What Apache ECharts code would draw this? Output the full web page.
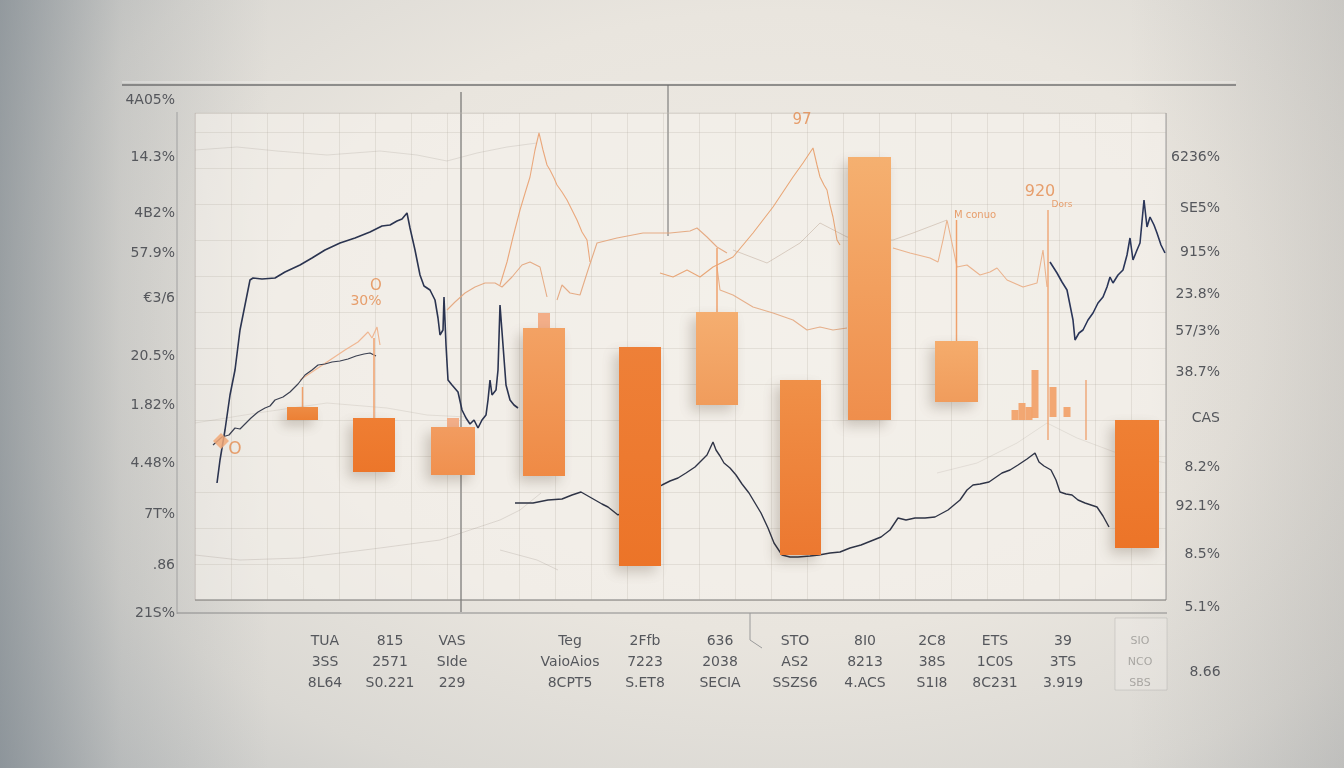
<!DOCTYPE html>
<html>
<head>
<meta charset="utf-8">
<script src="https://cdn.jsdelivr.net/npm/echarts@6/dist/echarts.min.js"></script>
<style>
  html, body { margin: 0; padding: 0; }
  body {
    width: 1344px; height: 768px; overflow: hidden;
    background:
      linear-gradient(90deg, rgba(100,112,122,0.55) 0%, rgba(110,120,128,0.18) 9%, rgba(0,0,0,0) 20%, rgba(0,0,0,0) 84%, rgba(120,120,120,0.18) 100%),
      radial-gradient(ellipse 80% 90% at 58% 42%, #efebe5 0%, #e9e5de 45%, #dad8d3 72%, #bcbfc0 100%);
  }
  #chart { width: 1344px; height: 768px; }
</style>
</head>
<body>
<div id="chart"></div>
<script>
// ---------- data (axis units: x = offset along plot, y = height above baseline) ----------
const leftTickVals   = [0, 48, 99, 150, 208, 257, 315, 360, 400, 456, 513];
const leftTickLabels = ['21S%', '.86', '7T%', '4.48%', '1.82%', '20.5%', '€3/6', '57.9%', '4B2%', '14.3%', '4A05%'];
const rightTickVals   = [6, 59, 107, 146, 195, 241, 282, 319, 361, 405, 456];
const rightTickLabels = ['5.1%', '8.5%', '92.1%', '8.2%', 'CAS', '38.7%', '57/3%', '23.8%', '915%', 'SE5%', '6236%'];
const xTickVals   = [148, 213, 275, 393, 468, 543, 618, 688, 755, 818, 886, 963];
const xTickLabels = ['TUA\n3SS\n8L64', '815\n2571\nS0.221', 'VAS\nSIde\n229', 'Teg\nVaioAios\n8CPT5',
  '2Ffb\n7223\nS.ET8', '636\n2038\nSECIA', 'STO\nAS2\nSSZS6', '8I0\n8213\n4.ACS',
  '2C8\n38S\nS1I8', 'ETS\n1C0S\n8C231', '39\n3TS\n3.919', 'SIO\nNCO\nSBS'];

const barX    = [125.5, 197, 276, 367, 463, 540, 623.5, 692.5, 779.5, 960];
const barLow  = [193, 141, 138, 137, 47, 208, 58, 193, 211, 65];
const barHigh = [206, 195, 186, 285, 266, 301, 233, 456, 272, 193];
const barWick = [226, 275, null, null, null, 365, null, null, 393, null];
const barCap  = [null, null, 195, 300, null, null, null, null, null, null];

const minorX    = [838, 845, 852, 858, 876, 890];
const minorLow  = [193, 193, 193, 195, 196, 196];
const minorHigh = [203, 210, 206, 243, 226, 206];

const spikeX    = [871, 909];
const spikeLow  = [173, 173];
const spikeHigh = [403, 233];

const navyA = [[40,130],[43,153],[48,183],[53,218],[58,243],[63,283],[68,308],[73,333],[76,335],[85,334],[98,335],[108,341],[123,348],[135,355],[148,363],[163,370],[178,375],[193,381],[205,387],[213,388],[220,392],[225,394],[230,400],[233,385],[238,363],[243,338],[247,327],[253,323],[258,313],[261,295],[263,278],[266,283],[267,316],[269,268],[271,233],[275,228],[281,221],[285,203],[289,195],[293,189],[297,193],[301,185],[305,193],[309,198],[311,213],[313,233],[315,218],[319,223],[321,243],[323,308],[326,268],[329,228],[333,213],[337,208],[341,205]];
const navyA2 = [[36,168],[45,176],[52,178],[58,185],[63,184],[68,189],[74,195],[81,201],[88,205],[93,207],[98,213],[106,216],[113,221],[121,229],[128,238],[135,243],[141,248],[148,249],[155,251],[163,252],[171,254],[179,257],[187,259],[193,260],[199,257]];
const navyB = [[338,110],[356,110],[371,113],[385,114],[395,118],[404,121],[411,117],[418,113],[425,109],[431,106],[441,98],[485,128],[493,132],[501,135],[509,140],[518,146],[525,153],[530,158],[536,171],[539,163],[543,157],[547,150],[553,145],[559,138],[565,129],[572,120],[578,110],[584,100],[591,85],[597,70],[605,58],[613,56],[621,56],[633,57],[642,58],[653,60],[663,61],[673,65],[684,68],[694,72],[704,76],[713,83],[721,95],[729,93],[738,95],[748,95],[758,96],[771,103],[783,113],[790,123],[796,128],[803,129],[812,131],[825,140],[833,143],[841,148],[850,154],[858,160],[862,151],[867,147],[874,143],[879,133],[883,121],[889,119],[895,118],[901,113],[908,110],[914,108],[920,106],[926,97],[932,86]];
const navyC = [[873,351],[880,340],[885,331],[890,323],[893,308],[896,293],[898,273],[902,280],[906,283],[911,293],[916,300],[921,310],[926,316],[930,326],[933,336],[936,330],[941,338],[946,343],[950,358],[953,375],[956,353],[960,363],[963,370],[967,413],[970,386],[973,396],[977,388],[980,380],[984,368],[988,360]];

const orangeO1 = [[123,233],[138,243],[153,253],[168,263],[181,271],[191,281],[195,275],[200,286],[203,268]];
const orangeP = [[323,328],[330,351],[336,376],[343,403],[349,423],[353,436],[358,463],[362,480],[366,463],[370,448],[373,443],[377,435],[380,428],[385,421],[390,413],[395,403],[400,393],[405,381],[410,373],[413,351]];
const orangeQ = [[270,303],[278,311],[288,320],[298,326],[308,330],[318,330],[325,326],[335,336],[345,348],[353,351],[363,346],[370,316]];
const orangeQ2 = [[380,313],[385,328],[393,320],[403,318],[411,343],[420,370],[440,375],[466,380],[493,380],[513,382],[520,385],[530,376],[540,366],[550,360]];
const orangeQ3 = [[540,346],[543,323],[556,318],[576,306],[596,300],[616,293],[630,283],[643,286],[656,283],[670,285]];
const orangeR = [[483,340],[496,336],[510,343],[523,336],[536,346],[556,356],[566,368],[576,380],[586,393],[596,406],[606,421],[616,436],[626,450],[636,465],[640,448],[643,436],[647,428],[650,423],[653,408],[656,396],[660,373],[663,368]];
const orangeS = [[716,365],[733,360],[753,355],[761,351],[766,373],[770,393],[775,370],[780,346],[790,348],[803,338],[813,341],[820,345],[830,333],[846,326],[853,328],[860,330],[866,363],[870,326]];

const grayG1 = [[18,463],[60,466],[100,462],[150,458],[203,462],[240,458],[270,452],[300,460],[330,466],[360,470]];
const grayG2 = [[556,363],[590,350],[623,370],[643,390],[670,376],[703,373],[716,373],[736,380],[770,393]];
const grayG3 = [[18,58],[63,53],[123,55],[203,65],[263,73],[323,93],[343,103],[364,120]];
const grayG4 = [[323,63],[360,53],[381,43]];
const grayG5 = [[18,190],[80,200],[150,210],[210,205],[250,198],[290,196]];
const grayG6 = [[760,140],[800,150],[840,170],[870,190],[900,175],[940,160],[989,150]];

const annX    = [58, 199, 189, 625, 863, 798, 885];
const annY    = [163, 327, 312, 493, 421, 398, 408];
const annText = ['O', 'O', '30%', '97', '920', 'M conuo', 'Dors'];

// ---------- styles ----------
const annSize = [17, 15, 14, 15, 16, 10, 9];
const barColors = [['#EE8C44','#EC8035'], ['#EF7E33','#EC762A'], ['#F29C60','#F0904E'], ['#F3A264','#EF8A45'],
  ['#EE8038','#EC7428'], ['#F5AE70','#F09C5C'], ['#F09048','#EC7830'], ['#F5B070','#EF8E4C'],
  ['#F5AC6C','#F09C5C'], ['#EF8034','#EC7428']];
const barWidths = [31, 42, 44, 42, 42, 42, 41, 43, 43, 44];

function renderBars(params, api) {
  const i = params.dataIndex;
  const x = api.value(0), lo = api.value(1), hi = api.value(2);
  const top = api.coord([x, hi]);
  const bot = api.coord([x, lo]);
  const w = barWidths[i];
  const children = [];
  if (barWick[i] != null) {
    const pw = api.coord([x, barWick[i]]);
    children.push({ type: 'line', shape: { x1: pw[0], y1: pw[1], x2: pw[0], y2: top[1] },
      style: { stroke: '#EFA06C', lineWidth: 1.5 } });
  }
  if (barCap[i] != null) {
    const pc = api.coord([x, barCap[i]]);
    children.push({ type: 'rect', shape: { x: pc[0] - 6, y: pc[1], width: 12, height: top[1] - pc[1] },
      style: { fill: '#F3AE88' } });
  }
  children.push({ type: 'rect', shape: { x: top[0] - w / 2, y: top[1], width: w, height: bot[1] - top[1] },
    style: {
      fill: new echarts.graphic.LinearGradient(0, 0, 0, 1, [
        { offset: 0, color: barColors[i][0] }, { offset: 1, color: barColors[i][1] }]),
      shadowBlur: 12, shadowColor: 'rgba(60,40,20,0.22)', shadowOffsetX: -5, shadowOffsetY: 6
    } });
  return { type: 'group', children };
}
function renderMinor(params, api) {
  const x = api.value(0), lo = api.value(1), hi = api.value(2);
  const top = api.coord([x, hi]), bot = api.coord([x, lo]);
  return { type: 'rect', shape: { x: top[0] - 3.5, y: top[1], width: 7, height: bot[1] - top[1] },
    style: { fill: '#F2A066', opacity: 0.9 } };
}
function renderSpike(params, api) {
  const x = api.value(0), lo = api.value(1), hi = api.value(2);
  const top = api.coord([x, hi]), bot = api.coord([x, lo]);
  return { type: 'line', shape: { x1: top[0], y1: top[1], x2: bot[0], y2: bot[1] },
    style: { stroke: '#EE9F6A', lineWidth: 1.3 } };
}

function lineSeries(data, color, width, opacity, z) {
  return { type: 'line', data, xAxisIndex: 0, yAxisIndex: 0, showSymbol: false, silent: true,
    lineStyle: { color, width, opacity }, z: z || 3, animation: false };
}

const labelFont = { fontFamily: 'DejaVu Sans', fontSize: 14, color: '#55575c' };

const chart = echarts.init(document.getElementById('chart'), null, { renderer: 'canvas' });
chart.setOption({
  animation: false,
  backgroundColor: 'transparent',
  grid: [
    { left: 177, right: 178, top: 85, bottom: 155 },
    { left: 195, right: 178, top: 113, bottom: 168 }
  ],
  xAxis: [
    { type: 'value', gridIndex: 0, min: 0, max: 989, axisLine: { show: false }, axisTick: { show: false },
      axisLabel: { show: false }, splitLine: { show: false } },
    { type: 'value', gridIndex: 0, min: 0, max: 989, position: 'bottom', axisLine: { show: false }, axisTick: { show: false },
      splitLine: { show: false },
      axisLabel: Object.assign({ customValues: xTickVals, margin: 18, lineHeight: 21,
        formatter: v => { const i = xTickVals.indexOf(v); return i === 11 ? '{f|' + xTickLabels[i].split('\n').join('}\n{f|') + '}' : xTickLabels[i]; },
        rich: { f: { color: '#a8a6a2', fontSize: 11, lineHeight: 21, fontFamily: 'DejaVu Sans' } } }, labelFont) },
    { type: 'value', gridIndex: 1, min: 0, max: 971, interval: 36, axisLine: { show: false }, axisTick: { show: false },
      axisLabel: { show: false }, splitLine: { show: true, lineStyle: { color: 'rgba(165,155,145,0.2)', width: 1 } } }
  ],
  yAxis: [
    { type: 'value', gridIndex: 0, min: 0, max: 528, position: 'left', axisLine: { show: false }, axisTick: { show: false },
      splitLine: { show: false },
      axisLabel: Object.assign({ customValues: leftTickVals, margin: 2,
        formatter: v => leftTickLabels[leftTickVals.indexOf(v)] }, labelFont) },
    { type: 'value', gridIndex: 0, min: 0, max: 528, position: 'right', axisLine: { show: false }, axisTick: { show: false },
      splitLine: { show: false },
      axisLabel: Object.assign({ customValues: rightTickVals, margin: 54, align: 'right',
        formatter: v => rightTickLabels[rightTickVals.indexOf(v)] }, labelFont) },
    { type: 'value', gridIndex: 1, min: 0, max: 487, interval: 36, axisLine: { show: false }, axisTick: { show: false },
      axisLabel: { show: false }, splitLine: { show: true, lineStyle: { color: 'rgba(165,155,145,0.2)', width: 1 } } }
  ],
  graphic: [
    { type: 'rect', z: -1, silent: true, shape: { x: 195, y: 113, width: 971, height: 487 },
      style: { fill: 'rgba(247,244,239,0.55)' } },
    { type: 'line', silent: true, shape: { x1: 122, y1: 85, x2: 1236, y2: 85 }, style: { stroke: '#707070', lineWidth: 1.6 } },
    { type: 'line', silent: true, shape: { x1: 122, y1: 82, x2: 1236, y2: 82 }, style: { stroke: 'rgba(255,255,255,0.5)', lineWidth: 1 } },
    { type: 'line', silent: true, shape: { x1: 461, y1: 92, x2: 461, y2: 612 }, style: { stroke: '#5a5a5a', lineWidth: 1 } },
    { type: 'line', silent: true, shape: { x1: 668, y1: 85, x2: 668, y2: 236 }, style: { stroke: '#6a6a6a', lineWidth: 1 } },
    { type: 'line', silent: true, shape: { x1: 177, y1: 112, x2: 177, y2: 614 }, style: { stroke: '#a0a0a0', lineWidth: 1 } },
    { type: 'line', silent: true, shape: { x1: 195, y1: 113, x2: 195, y2: 600 }, style: { stroke: 'rgba(190,185,180,0.6)', lineWidth: 1 } },
    { type: 'line', silent: true, shape: { x1: 195, y1: 113, x2: 1166, y2: 113 }, style: { stroke: 'rgba(200,195,190,0.5)', lineWidth: 1 } },
    { type: 'line', silent: true, shape: { x1: 1166, y1: 113, x2: 1166, y2: 600 }, style: { stroke: '#9a9a9a', lineWidth: 1 } },
    { type: 'line', silent: true, shape: { x1: 195, y1: 600, x2: 1166, y2: 600 }, style: { stroke: '#777777', lineWidth: 1.2 } },
    { type: 'line', silent: true, shape: { x1: 177, y1: 613, x2: 1167, y2: 613 }, style: { stroke: '#8a8a8a', lineWidth: 1 } },
    { type: 'polyline', silent: true, shape: { points: [[750, 613], [750, 640], [762, 648]] }, style: { stroke: '#9a9a9a', lineWidth: 1, fill: null } },
    { type: 'rect', silent: true, shape: { x: 1115, y: 618, width: 52, height: 72 }, style: { stroke: 'rgba(150,150,150,0.3)', fill: 'rgba(245,243,238,0.3)', lineWidth: 1 } },
    { type: 'text', silent: true, x: 1205, y: 672, style: { text: '8.66', fontFamily: 'DejaVu Sans', fontSize: 14, fill: '#55575c', align: 'center', verticalAlign: 'middle' } }
  ],
  series: [
    lineSeries(grayG1, 'rgba(150,140,130,0.22)', 1, 1, 2),
    lineSeries(grayG2, 'rgba(175,150,130,0.4)', 1, 1, 2),
    lineSeries(grayG3, 'rgba(150,140,130,0.25)', 1, 1, 2),
    lineSeries(grayG4, 'rgba(150,140,130,0.25)', 1, 1, 2),
    lineSeries(grayG5, 'rgba(150,140,130,0.18)', 1, 1, 2),
    lineSeries(grayG6, 'rgba(150,140,130,0.18)', 1, 1, 2),
    lineSeries(orangeO1, '#EFB088', 1.2, 0.9),
    lineSeries(orangeP, '#E9A070', 1.1, 0.9),
    lineSeries(orangeQ, '#E3A47A', 1.1, 0.9),
    lineSeries(orangeQ2, '#E3A47A', 1.1, 0.9),
    lineSeries(orangeQ3, '#E3A47A', 1.1, 0.85),
    lineSeries(orangeR, '#E79E6A', 1.1, 0.9),
    lineSeries(orangeS, '#E9A87C', 1.1, 0.85),
    lineSeries(navyA, '#2b3450', 1.6, 1, 4),
    lineSeries(navyA2, '#3a3f50', 1.2, 1, 4),
    lineSeries(navyB, '#2f3446', 1.4, 1, 4),
    lineSeries(navyC, '#2b3659', 1.6, 1, 4),
    { type: 'custom', xAxisIndex: 0, yAxisIndex: 0, z: 6, silent: true,
      data: barX.map((x, i) => [x, barLow[i], barHigh[i]]), renderItem: renderBars },
    { type: 'custom', xAxisIndex: 0, yAxisIndex: 0, z: 5, silent: true,
      data: minorX.map((x, i) => [x, minorLow[i], minorHigh[i]]), renderItem: renderMinor },
    { type: 'custom', xAxisIndex: 0, yAxisIndex: 0, z: 5, silent: true,
      data: spikeX.map((x, i) => [x, spikeLow[i], spikeHigh[i]]), renderItem: renderSpike },
    { type: 'scatter', xAxisIndex: 0, yAxisIndex: 0, z: 7, silent: true, symbolSize: 0,
      data: annX.map((x, i) => ({ value: [x, annY[i]], name: annText[i],
        label: { show: true, position: 'inside', formatter: '{b}', fontSize: annSize[i],
          fontFamily: 'DejaVu Sans', color: '#E48A4C' } })) },
    { type: 'scatter', xAxisIndex: 0, yAxisIndex: 0, z: 7, silent: true, symbol: 'diamond', symbolSize: 16,
      itemStyle: { color: '#F1A878', opacity: 0.85 }, data: [[44, 172]] }
  ]
});
</script>
</body>
</html>
